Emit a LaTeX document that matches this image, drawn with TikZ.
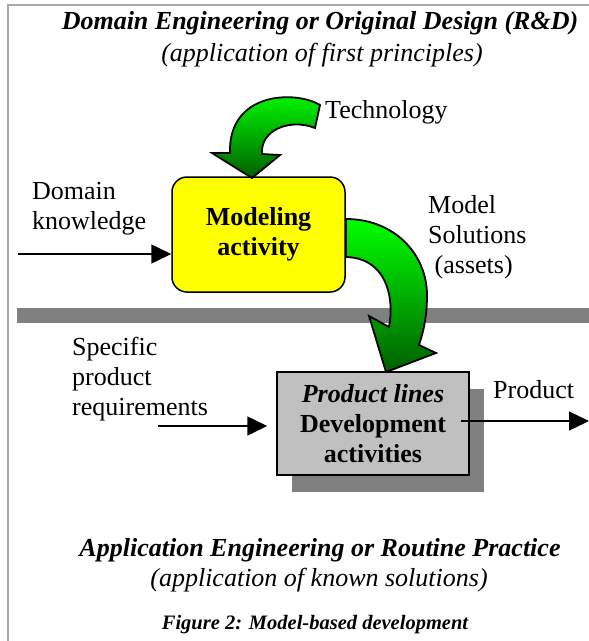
\documentclass[tikz,border=0pt]{standalone}
\usepackage{fontspec}
\setmainfont{Liberation Serif}
\usetikzlibrary{positioning, arrows.meta, shadows}
\definecolor{ModelYellow}{HTML}{FFFF00}
\definecolor{DevGray}{HTML}{C0C0C0}
\definecolor{ShadowGray}{HTML}{808080}
\definecolor{FrameGray}{HTML}{A8A8A8}
\definecolor{GreenTop}{HTML}{00FF00}
\definecolor{GreenBottom}{HTML}{005F00}
\newcommand{\bigtxt}{\fontsize{26}{30}\selectfont}
\newcommand{\captxt}{\fontsize{20.5}{24}\selectfont}

\begin{document}
\begin{tikzpicture}[x=1pt, y=-1pt,
    every node/.style={font=\bigtxt, inner sep=0pt},
    heading/.style={font=\bigtxt\bfseries\itshape, anchor=base},
    subheading/.style={font=\bigtxt\itshape, anchor=base},
    txt/.style={align=left, anchor=base west},
    modelbox/.style={draw, line width=1.5pt, rounded corners=15pt, fill=ModelYellow,
                     align=center, font=\bigtxt\bfseries,
                     minimum width=173pt, minimum height=115pt},
    devbox/.style={draw, line width=1.5pt, fill=DevGray, align=center,
                   font=\bigtxt\bfseries, minimum width=192pt, minimum height=103pt,
                   drop shadow={shadow xshift=15pt, shadow yshift=-17pt,
                                fill=ShadowGray, opacity=1}},
    arr/.style={-{Triangle[length=20pt,width=19pt]}, line width=1.5pt},
    blockarr/.style={draw=black, line width=1.8pt,
                     top color=GreenTop, bottom color=GreenBottom},
  ]
    \useasboundingbox (0,0) rectangle (589,641);
    \draw[FrameGray, line width=2pt] (589,5) -- (8,5) -- (8,641);

    % upper half: domain engineering
    \node[heading]    (domtitle) at (320,29) {Domain Engineering or Original Design (R\&D)};
    \node[subheading] (domsub)   at (322,61) {(application of first principles)};

    \fill[ShadowGray] (17,308) rectangle (589,323);

    \node[modelbox] (model) at (258.5,234.5) {Modeling\\activity};
    \node[devbox]   (dev)   at (373,423.5)
      {\textit{Product lines}\\Development\\activities};

    \node[txt] (tech)    at (325,118) {Technology};
    \node[txt] (domknow) at (32,229)  {Domain\\knowledge};
    \node[txt] (assets)  at (428,273) {Model\\Solutions\\\ (assets)};
    \node[txt] (specreq) at (72,415)  {Specific\\product\\requirements};
    \node[txt] (product) at (493,398) {Product};

    % lower half: application engineering
    \node[heading]    (apptitle) at (320,556) {Application Engineering or Routine Practice};
    \node[subheading] (appsub)   at (319,586) {(application of known solutions)};
    \node[heading, font=\captxt\bfseries\itshape] (caption) at (315,629)
      {Figure 2: Model-based development};

    \coordinate (domin)   at (18,254);
    \coordinate (reqin)   at (158,426);
    \coordinate (prodout) at (461,421);
    \coordinate (prodend) at (589,421);
    \draw[arr] (domin) -- (domin -| model.west);
    \draw[arr] (reqin) -- ([xshift=-9pt]reqin -| dev.west);
    \draw[arr] (prodout) -- (prodend);

    % green block arrows
    \filldraw[blockarr] (320,105) .. controls (295,90) and (228,92) .. (230,153)
      -- (212,153) -- (252,178) -- (280,155) -- (262,154)
      .. controls (260,130) and (290,118) .. (315,128) -- cycle;
    \filldraw[blockarr] (346,219) .. controls (395,219) and (427,255) .. (427,295)
      .. controls (427,315) and (424,330) .. (419,345)
      -- (436,353) -- (386,372) -- (369,316) -- (389,327)
      .. controls (395,295) and (385,258) .. (346,257) -- cycle;
\end{tikzpicture}
\end{document}
